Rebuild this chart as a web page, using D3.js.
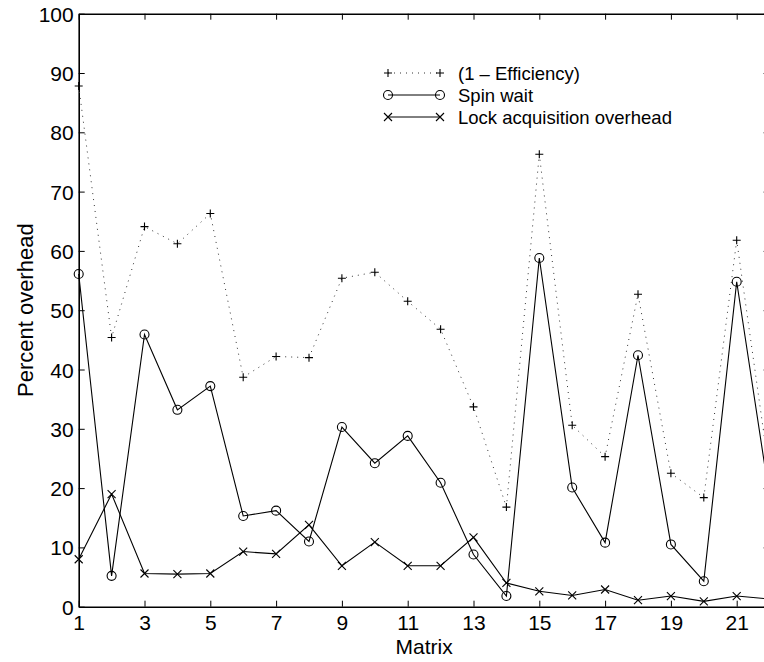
<!DOCTYPE html>
<html>
<head>
<meta charset="utf-8">
<script src="https://cdn.jsdelivr.net/npm/d3@7"></script>
<style>
  html, body { margin: 0; padding: 0; background: #fff; }
  svg { display: block; }
  text { font-family: "Liberation Sans", Arial, Helvetica, sans-serif; fill: #000; }
</style>
</head>
<body>
<script>
const matrices = [1,2,3,4,5,6,7,8,9,10,11,12,13,14,15,16,17,18,19,20,21,22];
const efficiencyLoss = [87.8, 45.4, 64.1, 61.2, 66.3, 38.7, 42.2, 42.0, 55.4, 56.4, 51.5, 46.8, 33.7, 16.8, 76.3, 30.6, 25.3, 52.7, 22.5, 18.4, 61.8, 22.3];
const spinWait = [56.1, 5.2, 45.9, 33.2, 37.2, 15.3, 16.2, 11.0, 30.3, 24.2, 28.8, 20.9, 8.8, 1.8, 58.8, 20.1, 10.8, 42.4, 10.5, 4.3, 54.8, 18.4];
const lockOverhead = [8.0, 19.0, 5.6, 5.5, 5.6, 9.3, 8.9, 13.8, 6.9, 10.9, 6.9, 6.9, 11.7, 4.0, 2.6, 1.9, 2.9, 1.1, 1.8, 0.9, 1.8, 1.3];
const xTicks = [1,3,5,7,9,11,13,15,17,19,21];
const yTicks = [0,10,20,30,40,50,60,70,80,90,100];
const seriesNames = ["(1 \u2013 Efficiency)", "Spin wait", "Lock acquisition overhead"];

const W = 764, H = 662;
const svg = d3.select("body").append("svg").attr("width", W).attr("height", H);

const x = d3.scaleLinear().domain([1, 22]).range([78.7, 769.6]);
const y = d3.scaleLinear().domain([0, 100]).range([606.7, 13.7]);

// Axes (box style, inward ticks)
const tickLen = 6;
const fs = 21;
const axB = svg.append("g").attr("transform", `translate(0,${y(0)})`)
  .call(d3.axisBottom(x).tickValues(xTicks).tickSizeInner(-tickLen).tickSizeOuter(0).tickPadding(12).tickFormat(d3.format("d")));
const axT = svg.append("g").attr("transform", `translate(0,${y(100)})`)
  .call(d3.axisTop(x).tickValues(xTicks).tickSizeInner(-tickLen).tickSizeOuter(0).tickFormat(""));
const axL = svg.append("g").attr("transform", `translate(${x(1)},0)`)
  .call(d3.axisLeft(y).tickValues(yTicks).tickSizeInner(-tickLen).tickSizeOuter(0).tickPadding(6).tickFormat(d3.format("d")));
const axR = svg.append("g").attr("transform", `translate(${x(22)},0)`)
  .call(d3.axisRight(y).tickValues(yTicks).tickSizeInner(-tickLen).tickSizeOuter(0).tickFormat(""));

[axB, axT, axL, axR].forEach(g => {
  g.attr("font-family", null);
  g.select(".domain").attr("stroke", "#000").attr("stroke-width", 1.6);
  g.selectAll(".tick line").attr("stroke", "#000").attr("stroke-width", 1);
  g.selectAll(".tick text").attr("font-size", fs).attr("fill", "#000");
});
axL.selectAll(".tick text").attr("dy", "0.36em").attr("x", -5);
axB.selectAll(".tick text").attr("dy", "0.71em").attr("y", 8);

// Axis labels
const xr = x.range();
svg.append("text").attr("x", (xr[0] + xr[1]) / 2).attr("y", 654).attr("text-anchor", "middle")
  .attr("font-size", 21).text("Matrix");
svg.append("text").attr("transform", `translate(33,${(y(0)+y(100))/2}) rotate(-90)`)
  .attr("text-anchor", "middle").attr("font-size", 22).text("Percent overhead");

const line = d3.line().x((d, i) => x(matrices[i])).y(d => y(d));

// Efficiency dotted
svg.append("path").datum(efficiencyLoss).attr("d", line)
  .attr("fill", "none").attr("stroke", "#333").attr("stroke-width", 1).attr("stroke-dasharray", "1,5");
// Spin wait solid
svg.append("path").datum(spinWait).attr("d", line)
  .attr("fill", "none").attr("stroke", "#000").attr("stroke-width", 1.1);
// Lock solid
svg.append("path").datum(lockOverhead).attr("d", line)
  .attr("fill", "none").attr("stroke", "#000").attr("stroke-width", 1.1);

// Marker helpers
function plus(g, cx, cy, s) {
  g.append("path").attr("d", `M${cx - s},${cy}H${cx + s}M${cx},${cy - s}V${cy + s}`)
    .attr("stroke", "#000").attr("stroke-width", 1.1).attr("fill", "none");
}
function circ(g, cx, cy, r) {
  g.append("circle").attr("cx", cx).attr("cy", cy).attr("r", r)
    .attr("stroke", "#000").attr("stroke-width", 1.1).attr("fill", "none");
}
function cross(g, cx, cy, s) {
  g.append("path").attr("d", `M${cx - s},${cy - s}L${cx + s},${cy + s}M${cx - s},${cy + s}L${cx + s},${cy - s}`)
    .attr("stroke", "#000").attr("stroke-width", 1.1).attr("fill", "none");
}

const mk = svg.append("g");
efficiencyLoss.forEach((v, i) => plus(mk, x(matrices[i]), y(v), 4));
spinWait.forEach((v, i) => circ(mk, x(matrices[i]), y(v), 4.5));
lockOverhead.forEach((v, i) => cross(mk, x(matrices[i]), y(v), 4));

// Legend
const lg = svg.append("g");
const lx0 = 388, lx1 = 440, tx = 458;
const rows = [73, 95, 117];
lg.append("line").attr("x1", lx0).attr("x2", lx1).attr("y1", rows[0]).attr("y2", rows[0])
  .attr("stroke", "#333").attr("stroke-dasharray", "1,5");
plus(lg, lx0, rows[0], 4); plus(lg, lx1, rows[0], 4);
lg.append("line").attr("x1", lx0).attr("x2", lx1).attr("y1", rows[1]).attr("y2", rows[1]).attr("stroke", "#000");
circ(lg, lx0, rows[1], 4.5); circ(lg, lx1, rows[1], 4.5);
lg.append("line").attr("x1", lx0).attr("x2", lx1).attr("y1", rows[2]).attr("y2", rows[2]).attr("stroke", "#000");
cross(lg, lx0, rows[2], 4); cross(lg, lx1, rows[2], 4);
seriesNames.forEach((n, i) => {
  lg.append("text").attr("x", tx).attr("y", rows[i]).attr("dy", "0.36em")
    .attr("font-size", 18.5).text(n);
});
</script>
</body>
</html>
